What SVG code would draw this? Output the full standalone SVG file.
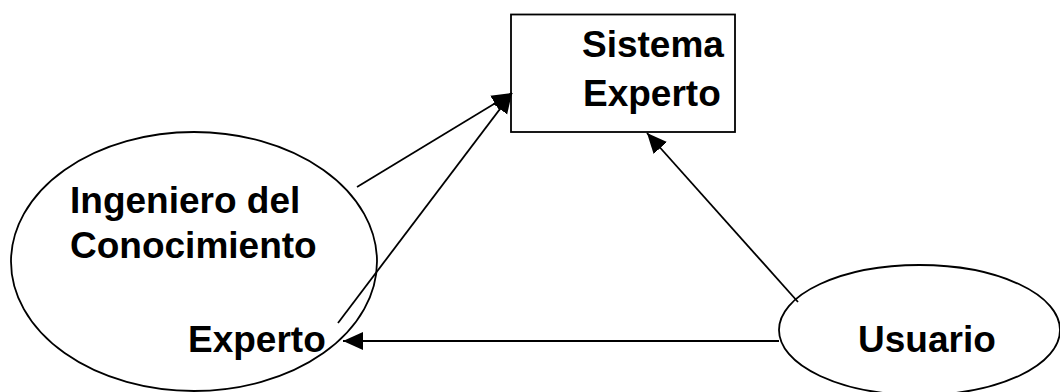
<svg xmlns="http://www.w3.org/2000/svg" width="1060" height="392" viewBox="0 0 1060 392">
  <style>
    .shape { fill: #ffffff; stroke: #000000; stroke-width: 1.8; }
    .label { font-family: "Liberation Sans", Arial, sans-serif; font-weight: bold; font-size: 37px; fill: #000000; }
    .link { fill: none; stroke: #000000; stroke-width: 1.8; }
  </style>
  <defs>
    <marker id="arrow" markerUnits="userSpaceOnUse" markerWidth="22" markerHeight="20" refX="20" refY="9" orient="auto">
      <path d="M0,0 L20,9 L0,18 Z" fill="#000000"/>
    </marker>
  </defs>

  <rect width="1060" height="392" fill="#ffffff"/>

  <!-- Expert system box -->
  <g id="sistema-experto">
    <rect class="shape" x="511" y="14.5" width="224" height="117.5"/>
    <text class="label" x="582" y="57">Sistema</text>
    <text class="label" x="583" y="106">Experto</text>
  </g>

  <!-- Knowledge engineer / expert -->
  <g id="ingeniero">
    <ellipse class="shape" cx="194" cy="261.5" rx="183" ry="129.5"/>
    <text class="label" x="70" y="213">Ingeniero del</text>
    <text class="label" x="70" y="258">Conocimiento</text>
    <text class="label" x="188" y="352">Experto</text>
  </g>

  <!-- User -->
  <g id="usuario">
    <ellipse class="shape" cx="919.5" cy="330" rx="140.5" ry="65"/>
    <text class="label" x="858" y="352">Usuario</text>
  </g>

  <!-- Connectors -->
  <g id="connectors">
    <line class="link" x1="357" y1="187" x2="512" y2="93" marker-end="url(#arrow)"/>
    <line class="link" x1="338" y1="323" x2="512" y2="93" marker-end="url(#arrow)"/>
    <line class="link" x1="798" y1="302" x2="647" y2="133" marker-end="url(#arrow)"/>
    <line class="link" x1="779" y1="341" x2="343" y2="341" marker-end="url(#arrow)"/>
  </g>
</svg>
